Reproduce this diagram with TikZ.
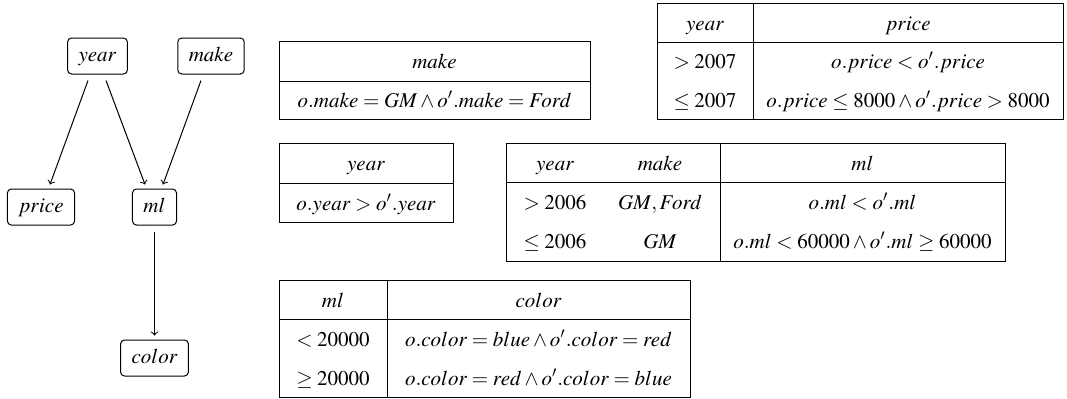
\documentclass[tikz,border=0pt]{standalone}
\usepackage[T1]{fontenc}
\usepackage{mathptmx}
\begin{document}
\begin{tikzpicture}[x=0.5pt,y=-0.5pt,
  every node/.style={font=\fontsize{10.5}{12.6}\selectfont},
  var/.style={draw, rounded corners=2pt, inner xsep=5.5pt, inner ysep=0pt, minimum height=18pt,
              text height=1.6ex, text depth=0.45ex, line width=0.5pt},
  dep/.style={->, line width=0.5pt},
  tbl/.style={draw, line width=0.5pt},
  cell/.style={inner sep=0pt, anchor=base, yshift=-3.8pt}]
\useasboundingbox (0,0) rectangle (1067,398);

% ---- dependency graph ----
\node[var] (year)  at (97.5,56)  {$year$};
\node[var] (make)  at (211,56)   {$make$};
\node[var] (price) at (41,207)   {$price$};
\node[var] (ml)    at (154.5,207) {$ml$};
\node[var] (color) at (154.5,358) {$color$};

\draw[dep] ([xshift=-4.75pt,yshift=-3pt]year.south) -- ([xshift=4.5pt,yshift=2pt]price.north);
\draw[dep] ([xshift=4.25pt,yshift=-3pt]year.south) -- ([xshift=-4.75pt,yshift=2pt]ml.north);
\draw[dep] ([xshift=-5pt,yshift=-3pt]make.south) -- ([xshift=4.25pt,yshift=2pt]ml.north);
\draw[dep] ([yshift=-3pt]ml.south) -- ([yshift=2pt]color.north);

% ---- make table ----
\draw[tbl] (279,41) rectangle (590,119);
\draw[tbl] (279,81) -- (590,81);
\node[cell] (mkH) at (434.5,61) {$make$};
\node[cell] (mkB) at (434.5,100) {$o.make = GM \wedge o'.make = Ford$};

% ---- year table ----
\draw[tbl] (279,143) rectangle (453,222);
\draw[tbl] (279,183) -- (453,183);
\node[cell] (yrH) at (366,163) {$year$};
\node[cell] (yrB) at (366,202.5) {$o.year > o'.year$};

% ---- price table ----
\draw[tbl] (657,3) rectangle (1063,119);
\draw[tbl] (657,42) -- (1063,42);
\draw[tbl] (753,3) -- (753,119);
\node[cell] (prH1) at (705,22.5) {$year$};
\node[cell] (prH2) at (908,22.5) {$price$};
\node[cell] (prA1) at (705,61) {$>2007$};
\node[cell] (prA2) at (908,61) {$o.price < o'.price$};
\node[cell] (prB1) at (705,100) {$\leq 2007$};
\node[cell] (prB2) at (908,100) {$o.price \leq 8000 \wedge o'.price > 8000$};

% ---- ml table ----
\draw[tbl] (506,143) rectangle (1005,261);
\draw[tbl] (506,182) -- (1005,182);
\draw[tbl] (720,143) -- (720,261);
\node[cell] (mlH1) at (555,162.5) {$year$};
\node[cell] (mlH2) at (660,162.5) {$make$};
\node[cell] (mlH3) at (862.5,162.5) {$ml$};
\node[cell] (mlA1) at (555,201.5) {$>2006$};
\node[cell] (mlA2) at (660,201.5) {$GM,Ford$};
\node[cell] (mlA3) at (862.5,201.5) {$o.ml < o'.ml$};
\node[cell] (mlB1) at (555,241) {$\leq 2006$};
\node[cell] (mlB2) at (660,241) {$GM$};
\node[cell] (mlB3) at (862.5,241) {$o.ml < 60000 \wedge o'.ml \geq 60000$};

% ---- color table ----
\draw[tbl] (279,280) rectangle (690,397);
\draw[tbl] (279,319) -- (690,319);
\draw[tbl] (387,280) -- (387,397);
\node[cell] (coH1) at (333,299.5) {$ml$};
\node[cell] (coH2) at (538.5,299.5) {$color$};
\node[cell] (coA1) at (333,338.5) {$<20000$};
\node[cell] (coA2) at (538.5,338.5) {$o.color = blue \wedge o'.color = red$};
\node[cell] (coB1) at (333,377.5) {$\geq 20000$};
\node[cell] (coB2) at (538.5,377.5) {$o.color = red \wedge o'.color = blue$};
\end{tikzpicture}
\end{document}
